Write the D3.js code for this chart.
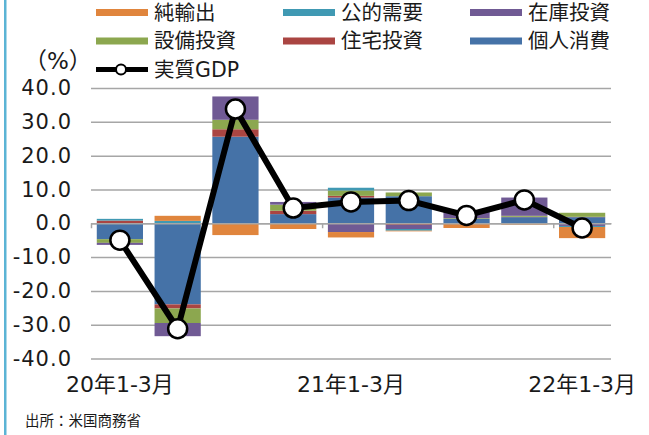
<!DOCTYPE html>
<html>
<head>
<meta charset="utf-8">
<script src="https://cdn.jsdelivr.net/npm/d3@7"></script>
<style>
  body { margin: 0; background: #fff; }
  svg { display: block; }
</style>
</head>
<body>
<div id="chart"></div>
<script>
// 米国実質GDP成長率（前期比年率）と寄与度
var quarters = ["20年1-3月", "20年4-6月", "20年7-9月", "20年10-12月",
                "21年1-3月", "21年4-6月", "21年7-9月", "21年10-12月", "22年1-3月"];

var kojinShohi  = [-4.7, -24.0, 25.6, 2.7, 7.6, 8.0, 1.3, 1.8, 1.8];   // 個人消費
var jutakuToshi = [0.8, -1.2, 2.2, 1.0, 0.5, -0.5, -0.2, 0.1, 0.1];    // 住宅投資
var setsubiToshi = [-1.1, -4.3, 2.8, 1.8, 1.6, 1.1, 0.2, 0.3, 1.2];    // 設備投資
var zaikoToshi  = [-0.6, -3.9, 6.9, 0.8, -2.6, -1.2, 1.9, 5.4, -0.8];  // 在庫投資
var kotekiJuyo  = [0.5, 0.7, 0.0, -0.2, 0.8, -0.5, 0.1, -0.2, -0.3];   // 公的需要
var junYushutsu = [0.0, 1.5, -3.5, -1.5, -1.6, -0.2, -1.2, -0.2, -3.3]; // 純輸出
var jisshitsuGDP = [-5.0, -31.2, 33.8, 4.5, 6.3, 6.7, 2.3, 6.9, -1.4]; // 実質GDP

var yTicks = [-40, -30, -20, -10, 0, 10, 20, 30, 40];

var seriesNames = ["個人消費", "住宅投資", "設備投資", "在庫投資", "公的需要", "純輸出"];
var seriesValues = [kojinShohi, jutakuToshi, setsubiToshi, zaikoToshi, kotekiJuyo, junYushutsu];
var seriesColors = ["#4572a7", "#aa4542", "#8ca74f", "#705a94", "#4099b3", "#e0853d"];

var svgWidth = 649;
var svgHeight = 435;
var plot = {left: 91, right: 611, top: 88, bottom: 358.5};

var cjk = "'Noto Sans CJK JP', sans-serif";
var mixed = "'DejaVu Sans', 'Noto Sans CJK JP', sans-serif";

var svg = d3.select("#chart").append("svg")
            .attr("width", svgWidth)
            .attr("height", svgHeight);

// left border
svg.append("rect")
   .attr("x", 4).attr("y", 0)
   .attr("width", 2.5).attr("height", svgHeight)
   .attr("fill", "#5bb4d5");

var table = quarters.map(function(q, i) {
  var row = {q: q};
  seriesNames.forEach(function(name, j) { row[name] = seriesValues[j][i]; });
  return row;
});

var xScale = d3.scaleBand()
               .domain(quarters)
               .range([plot.left, plot.right])
               .paddingInner(0.2)
               .paddingOuter(0.1);

var xIndex = d3.scaleLinear()
               .domain([0, quarters.length])
               .range([plot.left, plot.right]);

var yScale = d3.scaleLinear()
               .domain([-40, 40])
               .range([plot.bottom, plot.top]);

// gridlines + y labels
var leftAxis = d3.axisLeft(yScale)
                 .tickValues(yTicks)
                 .tickSize(-(plot.right - plot.left))
                 .tickPadding(19)
                 .tickFormat(function(d) { return d.toFixed(1); });

var yAxisG = svg.append("g")
   .attr("transform", `translate(${plot.left},0)`)
   .call(leftAxis);
yAxisG.select(".domain").remove();
yAxisG.selectAll("line").attr("stroke", "#a6a6a6").attr("stroke-width", 1.5);
yAxisG.selectAll("text")
      .attr("fill", "#1a1a1a")
      .style("font-family", "'DejaVu Sans', sans-serif")
      .style("font-size", "21px")
      .style("letter-spacing", "1px");

// stacked bars
var stack = d3.stack().keys(seriesNames).offset(d3.stackOffsetDiverging);
var stacked = stack(table);

svg.append("g")
   .selectAll("g")
   .data(stacked)
   .enter()
   .append("g")
   .attr("fill", function(d, i) { return seriesColors[i]; })
   .selectAll("rect")
   .data(function(d) { return d; })
   .enter()
   .append("rect")
   .attr("x", function(d) { return xScale(d.data.q); })
   .attr("width", xScale.bandwidth())
   .attr("y", function(d) { return yScale(Math.max(d[0], d[1])); })
   .attr("height", function(d) { return Math.abs(yScale(d[0]) - yScale(d[1])); });

// zero axis with ticks at year boundaries
var zeroAxis = d3.axisBottom(xIndex)
                 .tickValues([0, 4, 8])
                 .tickSize(5)
                 .tickSizeOuter(0)
                 .tickFormat("");
var zeroG = svg.append("g")
   .attr("transform", `translate(0,${yScale(0)})`)
   .call(zeroAxis);
zeroG.selectAll("path, line").attr("stroke", "#a6a6a6").attr("stroke-width", 1.5);

// category labels
var bottomAxis = d3.axisBottom(xScale)
                   .tickValues(quarters.filter(function(d, i) { return i % 4 === 0; }))
                   .tickSize(0)
                   .tickPadding(18);
var xAxisG = svg.append("g")
   .attr("transform", `translate(0,${plot.bottom})`)
   .call(bottomAxis);
xAxisG.select(".domain").remove();
xAxisG.selectAll("text")
      .attr("fill", "#1a1a1a")
      .style("font-family", mixed)
      .style("font-size", "22px");

// GDP line
var line = d3.line()
             .x(function(d, i) { return xScale(quarters[i]) + xScale.bandwidth() / 2; })
             .y(function(d) { return yScale(d); });

svg.append("path")
   .datum(jisshitsuGDP)
   .attr("d", line)
   .attr("fill", "none")
   .attr("stroke", "#000")
   .attr("stroke-width", 6)
   .attr("stroke-linejoin", "round");

svg.selectAll(".gdp-dot")
   .data(jisshitsuGDP)
   .enter()
   .append("circle")
   .attr("class", "gdp-dot")
   .attr("cx", function(d, i) { return xScale(quarters[i]) + xScale.bandwidth() / 2; })
   .attr("cy", function(d) { return yScale(d); })
   .attr("r", 9.5)
   .attr("fill", "#fff")
   .attr("stroke", "#000")
   .attr("stroke-width", 2.5);

// legend (reading order: 純輸出, 公的需要, 在庫投資 / 設備投資, 住宅投資, 個人消費)
var legendOrder = [5, 4, 3, 2, 1, 0];
var legendCols = [96, 283, 470];
var legendRows = [12.5, 41];

legendOrder.forEach(function(k, n) {
  var lx = legendCols[n % 3];
  var ly = legendRows[Math.floor(n / 3)];
  svg.append("rect")
     .attr("x", lx).attr("y", ly - 3.5)
     .attr("width", 52).attr("height", 7)
     .attr("fill", seriesColors[k]);
  svg.append("text")
     .attr("x", lx + 58).attr("y", ly)
     .attr("dy", "0.36em")
     .style("font-family", cjk)
     .style("font-size", "20.5px")
     .attr("fill", "#1a1a1a")
     .text(seriesNames[k]);
});

svg.append("line")
   .attr("x1", 96).attr("x2", 148)
   .attr("y1", 69.5).attr("y2", 69.5)
   .attr("stroke", "#000").attr("stroke-width", 5);
svg.append("circle")
   .attr("cx", 121).attr("cy", 69.5).attr("r", 5)
   .attr("fill", "#fff").attr("stroke", "#000").attr("stroke-width", 2);
svg.append("text")
   .attr("x", 154).attr("y", 69.5)
   .attr("dy", "0.36em")
   .style("font-family", mixed)
   .style("font-size", "20.5px")
   .attr("fill", "#1a1a1a")
   .text("実質GDP");

// unit label
svg.append("text")
   .attr("x", 24).attr("y", 61)
   .attr("dy", "0.36em")
   .style("font-family", mixed)
   .style("font-size", "23px")
   .attr("fill", "#1a1a1a")
   .text("（%）");

// source
svg.append("text")
   .attr("x", 25).attr("y", 421)
   .attr("dy", "0.36em")
   .style("font-family", cjk)
   .style("font-size", "14.5px")
   .attr("fill", "#1a1a1a")
   .text("出所：米国商務省");
</script>
</body>
</html>
